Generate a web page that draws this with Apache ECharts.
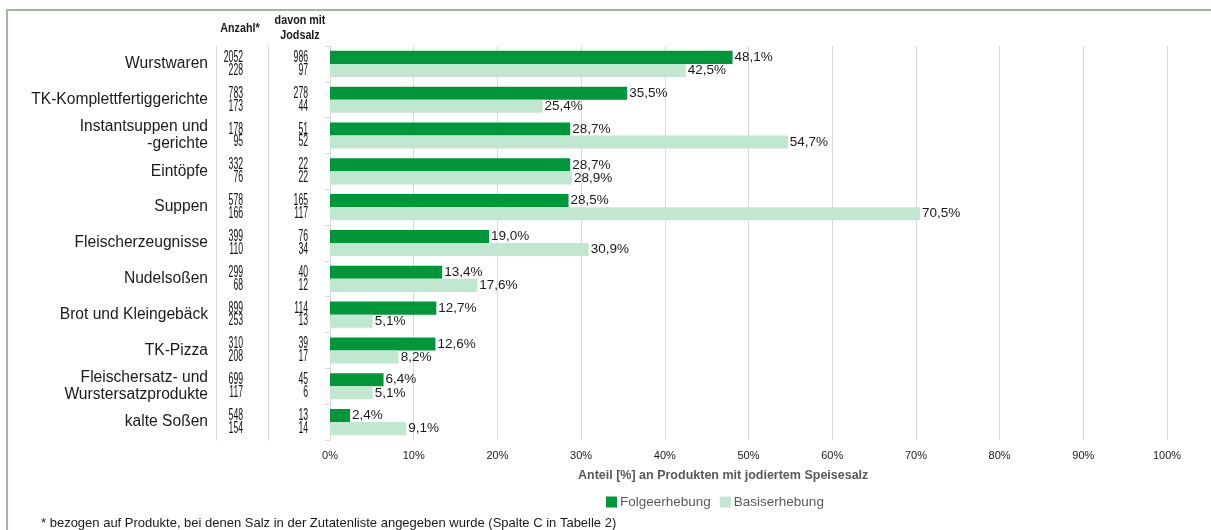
<!DOCTYPE html>
<html><head><meta charset="utf-8">
<script src="https://cdn.jsdelivr.net/npm/echarts@6/dist/echarts.min.js"></script>
<style>html,body{margin:0;padding:0;background:#fff}#c{width:1211px;height:530px}</style>
</head><body><div id="c"></div>
<script>
const categories = ['Wurstwaren','TK-Komplettfertiggerichte','Instantsuppen und\n-gerichte','Eintöpfe','Suppen','Fleischerzeugnisse','Nudelsoßen','Brot und Kleingebäck','TK-Pizza','Fleischersatz- und\nWurstersatzprodukte','kalte Soßen'];
const folge = [48.1,35.5,28.7,28.7,28.5,19.0,13.4,12.7,12.6,6.4,2.4];
const basis = [42.5,25.4,54.7,28.9,70.5,30.9,17.6,5.1,8.2,5.1,9.1];
const anzahlFolge = [2052,783,178,332,578,399,299,899,310,699,548];
const anzahlBasis = [228,173,95,76,166,110,68,253,208,117,154];
const jodFolge = [986,278,51,22,165,76,40,114,39,45,13];
const jodBasis = [97,44,52,22,117,34,12,13,17,6,14];
const xTicks = [0,10,20,30,40,50,60,70,80,90,100];

const SANS = "'Liberation Sans',Arial,sans-serif";
const fmt = v => v.toFixed(1).replace('.', ',') + '%';
const idx = categories.map((c,i)=>i);

function numText(x, y, txt){
  return {type:'text', x:x, y:y, scaleX:0.54, scaleY:1, silent:true,
    style:{text:String(txt), x:0, y:0, align:'right', verticalAlign:'middle',
      fontSize:16, fontFamily:SANS, fontWeight:'normal', fill:'#111111'}};
}
function hdr(x, y, txt){
  return {type:'text', x:x, y:y, scaleX:0.86, silent:true,
    style:{text:txt, x:0, y:0, align:'center', verticalAlign:'middle',
      fontSize:12.5, fontFamily:SANS, fontWeight:'bold', fill:'#1a1a1a'}};
}

const chart = echarts.init(document.getElementById('c'), null, {renderer:'canvas'});
chart.setOption({
  animation:false,
  grid:{left:330,right:44,top:46,bottom:90,containLabel:false},
  title:[
    {text:'Anteil [%] an Produkten mit jodiertem Speisesalz',left:573,top:464,textStyle:{fontFamily:SANS,fontSize:12.5,fontWeight:'bold',color:'#595959'}},
    {text:'* bezogen auf Produkte, bei denen Salz in der Zutatenliste angegeben wurde (Spalte C in Tabelle 2)',left:36,top:512,textStyle:{fontFamily:SANS,fontSize:13,fontWeight:'normal',color:'#1a1a1a'}}
  ],
  legend:{left:601,top:490,itemWidth:11,itemHeight:11,itemGap:9,icon:'rect',
    textStyle:{fontFamily:SANS,fontSize:13.5,color:'#595959',padding:[0,0,0,-2]},
    data:['Folgeerhebung','Basiserhebung']},
  graphic:[
    {type:'polyline',shape:{points:[[7,530],[7,10],[1211,10]]},style:{stroke:'#a0b5a2',lineWidth:2,fill:null},silent:true},
    hdr(240,29,'Anzahl*'),
    hdr(300,21,'davon mit'),
    hdr(300,36,'Jodsalz')
  ],
  xAxis:{type:'value',min:0,max:100,interval:10,
    axisLine:{show:false},axisTick:{show:false},
    splitLine:{lineStyle:{color:'#d9d9d9',width:1}},
    axisLabel:{formatter:v=>v+'%',fontFamily:SANS,fontSize:11,color:'#1a1a1a',margin:10}},
  yAxis:[
    {type:'category',data:idx,inverse:true,
      axisLine:{show:true,lineStyle:{color:'#d9d9d9'}},
      axisTick:{show:true,length:5,lineStyle:{color:'#d9d9d9'}},
      axisLabel:{show:false}},
    {type:'category',data:idx,inverse:true,position:'left',offset:62,
      axisLine:{show:true,lineStyle:{color:'#d9d9d9'}},axisTick:{show:false},
      axisLabel:{show:false}},
    {type:'category',data:categories,inverse:true,position:'left',offset:114,
      axisLine:{show:true,lineStyle:{color:'#d9d9d9'}},axisTick:{show:false},
      axisLabel:{fontFamily:SANS,fontSize:15.6,lineHeight:17,color:'#1a1a1a',margin:8,align:'right',padding:[5,0,0,0]}}
  ],
  series:[
    {name:'Folgeerhebung',type:'bar',data:folge,yAxisIndex:0,barGap:'0%',barCategoryGap:'27%',
      itemStyle:{color:'#00973a'},
      label:{show:true,position:'right',distance:2,formatter:p=>fmt(p.value),fontFamily:SANS,fontSize:13.5,color:'#1a1a1a'}},
    {name:'Basiserhebung',type:'bar',data:basis,yAxisIndex:0,barGap:'0%',barCategoryGap:'27%',
      itemStyle:{color:'#c2e7d1'},
      label:{show:true,position:'right',distance:2,formatter:p=>fmt(p.value),fontFamily:SANS,fontSize:13.5,color:'#1a1a1a'}},
    {name:'Zahlen',type:'custom',coordinateSystem:'cartesian2d',xAxisIndex:0,yAxisIndex:0,clip:false,silent:true,
      data:idx.map(i=>[0,i]),encode:{x:0,y:1},
      renderItem:function(params, api){
        const i = params.dataIndex;
        const p = api.coord([0, api.value(1)]);
        return {type:'group', children:[
          numText(p[0]-87, p[1]-6.4, anzahlFolge[i]),
          numText(p[0]-87, p[1]+6.4, anzahlBasis[i]),
          numText(p[0]-22, p[1]-6.4, jodFolge[i]),
          numText(p[0]-22, p[1]+6.4, jodBasis[i])
        ]};
      }}
  ]
});
</script></body></html>
